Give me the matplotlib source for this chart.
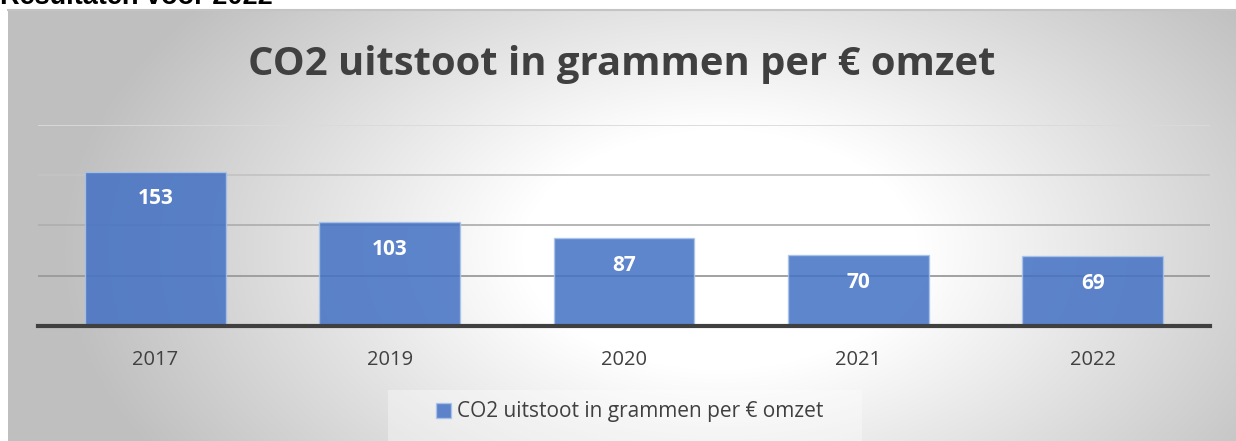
import numpy as np
import matplotlib
matplotlib.use("Agg")
import matplotlib.pyplot as plt
from matplotlib.patches import Rectangle

# ---- data ----
years = ["2017", "2019", "2020", "2021", "2022"]
co2_per_euro = [153, 103, 87, 70, 69]
series_name = "CO2 uitstoot in grammen per € omzet"
chart_title = "CO2 uitstoot in grammen per € omzet"
header = "Resultaten voor 2022"
y_ticks = [0, 50, 100, 150, 200]

W, H = 1236, 441
fig = plt.figure(figsize=(W / 100, H / 100), dpi=100)
fig.patch.set_facecolor("white")

FONT = ["Open Sans", "DejaVu Sans"]

# ---- gradient background (chart area) ----
x0, ytop = 8, 10
bg = fig.add_axes([x0 / W, 0, 1 - x0 / W, (H - ytop) / H], zorder=-10)
xs = np.arange(x0, W) + 0.5
ys = np.arange(ytop, H) + 0.5
X, Y = np.meshgrid(xs, ys)
cx, cy, rx, ry = 720, 250, 660, 400
d = np.sqrt(((X - cx) / rx) ** 2 + ((Y - cy) / ry) ** 2)
t = np.clip((d - 0.3) / 0.7, 0, 1)
v = 1.0 - 0.25 * t
img = np.dstack([v, v, v])
bg.imshow(img, aspect="auto", extent=[0, 1, 0, 1], interpolation="bilinear")
bg.set_xlim(0, 1)
bg.set_ylim(0, 1)
bg.axis("off")
fig.add_artist(plt.Line2D([x0 / W, 1], [1 - ytop / H, 1 - ytop / H],
                          transform=fig.transFigure, color="#c4c4c4", lw=1.5))

# legend box background
fig.add_artist(Rectangle((388 / W, 0), (862 - 388) / W, (H - 390) / H,
                         transform=fig.transFigure, facecolor="white",
                         alpha=0.35, edgecolor="none", zorder=-5))

# ---- main axes ----
ax = fig.add_axes([38 / W, (H - 326) / H, (1210 - 38) / W, 201.5 / H])
ax.set_facecolor("none")
xpos = np.arange(len(years))
bars = ax.bar(xpos, co2_per_euro, width=0.6, color="#4472c4", alpha=0.86,
              edgecolor="#a9c4ea", linewidth=1.0, zorder=3)
ax.set_xlim(-0.5, len(years) - 0.5)
ax.set_ylim(y_ticks[0], y_ticks[-1])
ax.set_yticks(y_ticks)
ax.tick_params(axis="y", left=False, labelleft=False)
ax.yaxis.grid(True, linewidth=1.3)
ax.set_axisbelow(True)
grid_cols = ["#404040", "#9a9a9a", "#b0b0b0", "#c4c4c4", "#dadada"]
for gl, c in zip(ax.get_ygridlines(), grid_cols):
    gl.set_color(c)
for s in ["top", "left", "right"]:
    ax.spines[s].set_visible(False)
ax.spines["bottom"].set_color("#404040")
ax.spines["bottom"].set_linewidth(3.0)
ax.spines["bottom"].set_zorder(5)
ax.set_xticks(xpos, years)
ax.tick_params(axis="x", length=0, pad=17, labelsize=14.5, labelcolor="#404040")
for lab in ax.get_xticklabels():
    lab.set_family(FONT)

for b, val in zip(bars, co2_per_euro):
    ax.annotate(str(val), (b.get_x() + b.get_width() / 2, val),
                xytext=(0, -27), textcoords="offset pixels",
                ha="center", va="center", color="white",
                fontsize=15, fontweight="bold", family=FONT, zorder=6)

# ---- legend ----
leg = fig.legend([bars[0]], [series_name], loc="center",
                 bbox_to_anchor=(630 / W, 1 - 412 / H), frameon=False,
                 prop={"family": FONT, "size": 15},
                 handlelength=0.7, handleheight=0.7, handletextpad=0.3)
for txt in leg.get_texts():
    txt.set_color("#404040")

# ---- titles ----
fig.text(622 / W, 1 - 65 / H, chart_title, ha="center", va="center",
         fontsize=28.8, fontweight="bold", color="#404040", family=FONT)
fig.text(0, 1 - 4 / H, header, ha="left", va="baseline",
         fontsize=19.5, fontweight="bold", color="black",
         family=["Liberation Sans", "DejaVu Sans"])

fig.savefig("out.png", dpi=100)
